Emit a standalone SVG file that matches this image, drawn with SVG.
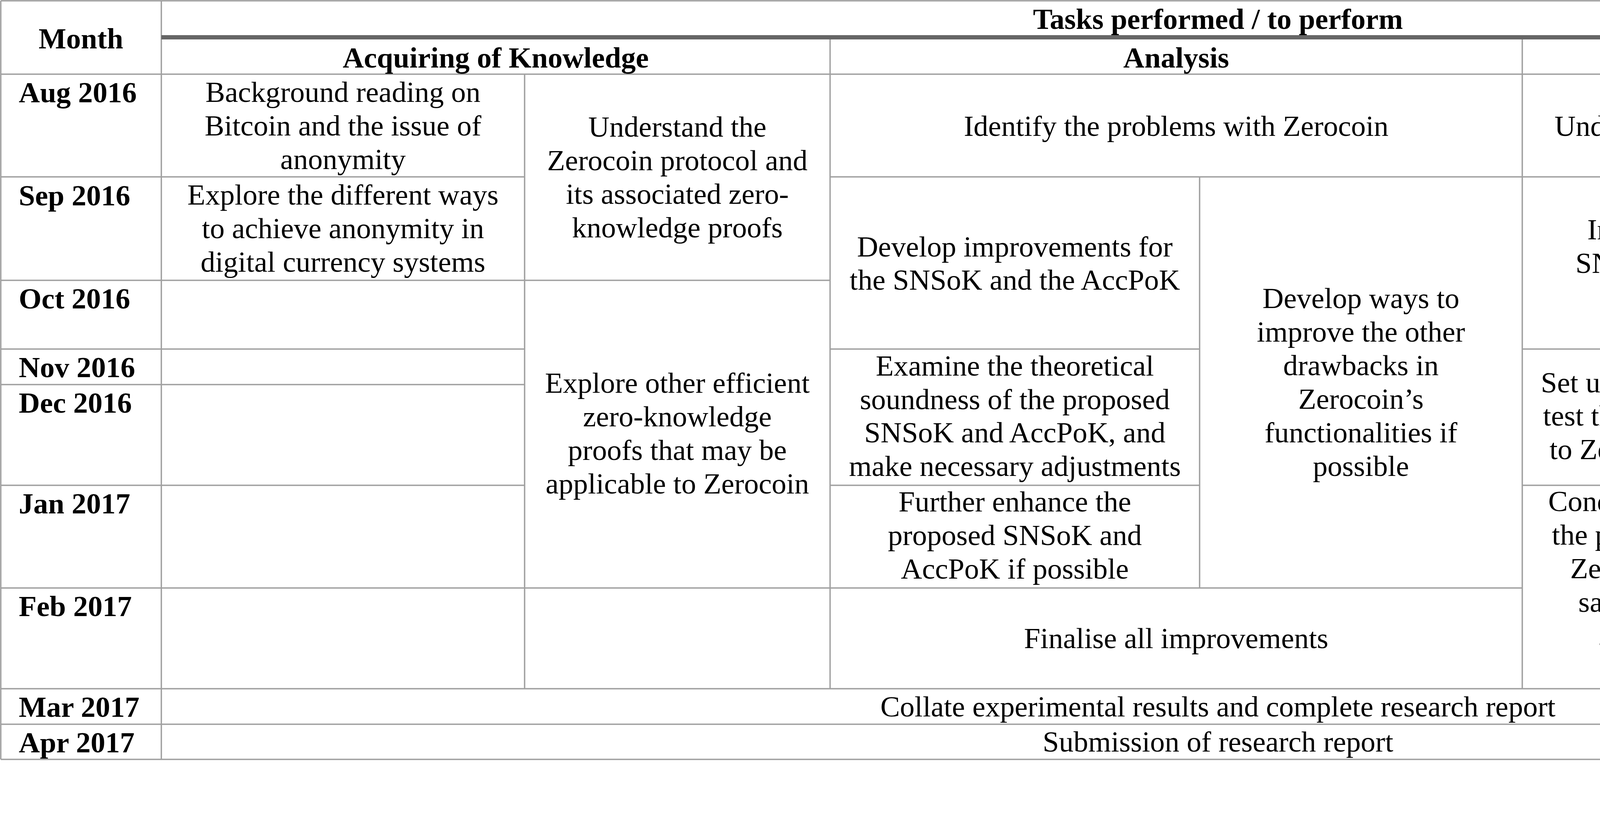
<svg xmlns="http://www.w3.org/2000/svg" width="5826" height="2131" viewBox="0 0 5826 2131">
<style>
.grid{stroke:#a0a0a0;stroke-width:3.5;fill:none}
text{font-family:"Liberation Serif","Times New Roman",serif;font-size:75px;fill:#000}
.b{font-weight:bold}
.c{text-anchor:middle}
</style>
<rect x="0" y="0" width="5826" height="2131" fill="#ffffff"/>
<g id="connectors">
<path class="grid" d="M2 2H5824 M2 190H5824 M2 453H1343 M2125 453H5824 M2 718H2125 M4960 718H5824 M2 894H1343 M2125 894H3071 M3897 894H4960 M2 985H1343 M4960 985H5824 M2 1243H1343 M2125 1243H3071 M3897 1243H4960 M2 1506H3897 M4960 1506H5824 M2 1764H5824 M2 1855H5824 M2 1945H5824 M2 2V1945 M413 2V1945 M1343 190V1764 M2125 96V1764 M3071 453V1506 M3897 96V1764 M4960 453V1764 M5824 2V1945"/>
<rect x="413" y="90" width="5411" height="11" fill="#666666"/>
</g>
<g id="h-month"><text class="b c" x="207" y="124">Month</text></g>
<g id="h-tasks"><text class="b c" x="3118" y="74">Tasks performed / to perform</text></g>
<g id="h-acq"><text class="b c" x="1269" y="173">Acquiring of Knowledge</text></g>
<g id="h-ana"><text class="b c" x="3011" y="173">Analysis</text></g>
<g id="h-impl"><text class="b c" x="4860" y="173">Implementation</text></g>
<g id="months" class="b">
<text class="b" x="48" y="262">Aug 2016</text>
<text class="b" x="48" y="526">Sep 2016</text>
<text class="b" x="48" y="790">Oct 2016</text>
<text class="b" x="48" y="966">Nov 2016</text>
<text class="b" x="48" y="1057">Dec 2016</text>
<text class="b" x="48" y="1315">Jan 2017</text>
<text class="b" x="48" y="1578">Feb 2017</text>
<text class="b" x="48" y="1836">Mar 2017</text>
<text class="b" x="48" y="1927">Apr 2017</text>
</g>
<g id="acq-background"><text class="c" x="878" y="261">Background reading on</text><text class="c" x="878" y="347">Bitcoin and the issue of</text><text class="c" x="878" y="433">anonymity</text></g>
<g id="acq-explore-ways"><text class="c" x="878" y="524">Explore the different ways</text><text class="c" x="878" y="610">to achieve anonymity in</text><text class="c" x="878" y="696">digital currency systems</text></g>
<g id="acq-understand"><text class="c" x="1734" y="350">Understand the</text><text class="c" x="1734" y="436">Zerocoin protocol and</text><text class="c" x="1734" y="522">its associated zero-</text><text class="c" x="1734" y="608">knowledge proofs</text></g>
<g id="acq-explore-other"><text class="c" x="1734" y="1006">Explore other efficient</text><text class="c" x="1734" y="1092">zero-knowledge</text><text class="c" x="1734" y="1178">proofs that may be</text><text class="c" x="1734" y="1264">applicable to Zerocoin</text></g>
<g id="ana-identify"><text class="c" x="3011" y="348">Identify the problems with Zerocoin</text></g>
<g id="ana-develop-impr"><text class="c" x="2598" y="657">Develop improvements for</text><text class="c" x="2598" y="742">the SNSoK and the AccPoK</text></g>
<g id="ana-develop-ways"><text class="c" x="3484" y="789">Develop ways to</text><text class="c" x="3484" y="875">improve the other</text><text class="c" x="3484" y="961">drawbacks in</text><text class="c" x="3484" y="1047">Zerocoin’s</text><text class="c" x="3484" y="1133">functionalities if</text><text class="c" x="3484" y="1219">possible</text></g>
<g id="ana-examine"><text class="c" x="2598" y="962">Examine the theoretical</text><text class="c" x="2598" y="1048">soundness of the proposed</text><text class="c" x="2598" y="1133">SNSoK and AccPoK, and</text><text class="c" x="2598" y="1219">make necessary adjustments</text></g>
<g id="ana-further"><text class="c" x="2598" y="1310">Further enhance the</text><text class="c" x="2598" y="1396">proposed SNSoK and</text><text class="c" x="2598" y="1482">AccPoK if possible</text></g>
<g id="ana-finalise"><text class="c" x="3011" y="1660">Finalise all improvements</text></g>
<g id="impl-understand"><text class="c" x="4860" y="348">Understand the C++ source code of Zerocoin (libzerocoin)</text></g>
<g id="impl-snsok"><text class="c" x="4428" y="613">Implement the proposed</text><text class="c" x="4428" y="699">SNSoK and conduct some</text><text class="c" x="4428" y="785">preliminary tests</text></g>
<g id="impl-accpok"><text class="c" x="5392" y="787">Implement the proposed</text><text class="c" x="5392" y="873">AccPoK and conduct</text><text class="c" x="5392" y="959">some preliminary test</text></g>
<g id="impl-setup"><text class="c" x="4428" y="1005">Set up a peer-to-peer network to</text><text class="c" x="4428" y="1090">test the proposed improvements</text><text class="c" x="4428" y="1176">to Zerocoin on a network level</text></g>
<g id="impl-update"><text class="c" x="5392" y="1093">Update the</text><text class="c" x="5392" y="1180">implementation of the</text><text class="c" x="5392" y="1266" xml:space="preserve">proposed SNSoK  and</text><text class="c" x="5392" y="1352">AccPoK with any</text><text class="c" x="5392" y="1439">changes or enhancements</text></g>
<g id="impl-conduct"><text class="c" x="4428" y="1309">Conduct network level tests on</text><text class="c" x="4428" y="1395">the proposed improvements to</text><text class="c" x="4428" y="1481">Zerocoin. Also perform the</text><text class="c" x="4428" y="1567">same tests for the original</text><text class="c" x="4428" y="1652">Zerocoin protocol as a</text><text class="c" x="4428" y="1738">benchmark.</text></g>
<g id="impl-all"><text class="c" x="5392" y="1612">Implement all</text><text class="c" x="5392" y="1698">improvements</text></g>
<g id="collate"><text class="c" x="3118" y="1835">Collate experimental results and complete research report</text></g>
<g id="submission"><text class="c" x="3118" y="1925">Submission of research report</text></g>
</svg>
